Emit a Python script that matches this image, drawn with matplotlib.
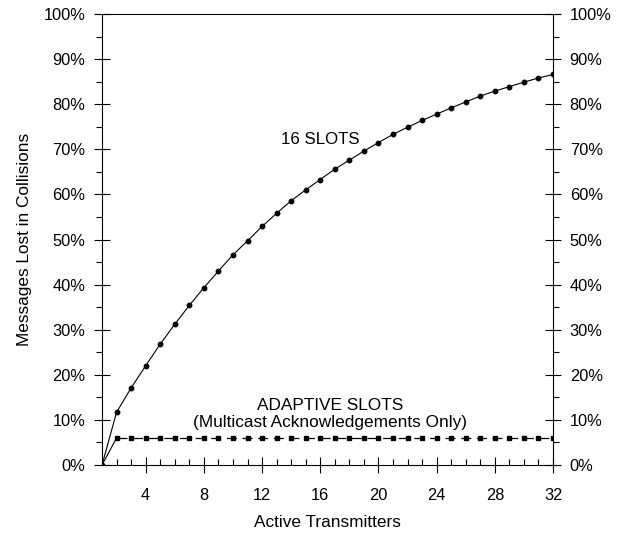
import numpy as np
import matplotlib.pyplot as plt
from matplotlib.ticker import MultipleLocator, FuncFormatter

plt.rcParams['font.family'] = ['Liberation Sans', 'DejaVu Sans']

# Aktive sendere
transmitters = list(range(1, 33))

# Tap i prosent, lest av bildet
slots16 = [0.0, 11.7, 17.1, 22.0, 26.8, 31.2, 35.4, 39.3, 43.0, 46.6,
           49.7, 52.9, 55.8, 58.6, 61.0, 63.3, 65.6, 67.6, 69.6, 71.5,
           73.3, 74.9, 76.4, 77.8, 79.2, 80.5, 81.8, 82.9, 83.9, 84.9,
           85.8, 86.6]
adaptive = [0.0] + [6.0] * 31

fig = plt.figure(figsize=(6.29, 5.41), dpi=100)
ax = fig.add_axes([0.1622, 0.1405, 0.717, 0.8336])

ax.plot(transmitters, slots16, color='black', lw=0.8,
        marker='o', markersize=3.2)
# første segment er heltrukket, resten stiplet
ax.plot(transmitters[:2], adaptive[:2], color='black', lw=0.8)
ax.plot(transmitters[1:], adaptive[1:], color='black', lw=0.9,
        ls=(0, (8, 4.5)), marker='s', markersize=2.4)

ax.set_xlim(1, 32)
ax.set_ylim(0, 100)
ax.xaxis.set_major_locator(MultipleLocator(4))
ax.xaxis.set_minor_locator(MultipleLocator(1))
ax.yaxis.set_major_locator(MultipleLocator(10))
ax.yaxis.set_minor_locator(MultipleLocator(5))
ax.yaxis.set_major_formatter(FuncFormatter(lambda v, p: f'{v:.0f}%'))

ax.tick_params(axis='both', which='major', direction='inout', length=12,
               width=0.8, labelsize=11.8, color='black')
ax.tick_params(axis='y', which='both', left=True, right=True,
               labelleft=True, labelright=True)
ax.tick_params(axis='y', which='minor', direction='out', length=4, width=0.8)
ax.tick_params(axis='x', which='minor', direction='in', length=4.3, width=0.8)
ax.tick_params(axis='y', which='major', pad=6)
ax.tick_params(axis='x', which='major', pad=10.5)

for s in ax.spines.values():
    s.set_linewidth(0.8)

ax.text(16.0, 72.2, '16 SLOTS', fontsize=12.2, ha='center', va='center')
ax.text(16.7, 13.3, 'ADAPTIVE SLOTS', fontsize=12.4, ha='center', va='center')
ax.text(16.7, 9.5, '(Multicast Acknowledgements Only)', fontsize=12.4,
        ha='center', va='center')

ax.set_xlabel('Active Transmitters', fontsize=12.4, labelpad=9)
ax.set_ylabel('Messages Lost in Collisions', fontsize=12.4, labelpad=8)

fig.savefig('out.png', dpi=100)
